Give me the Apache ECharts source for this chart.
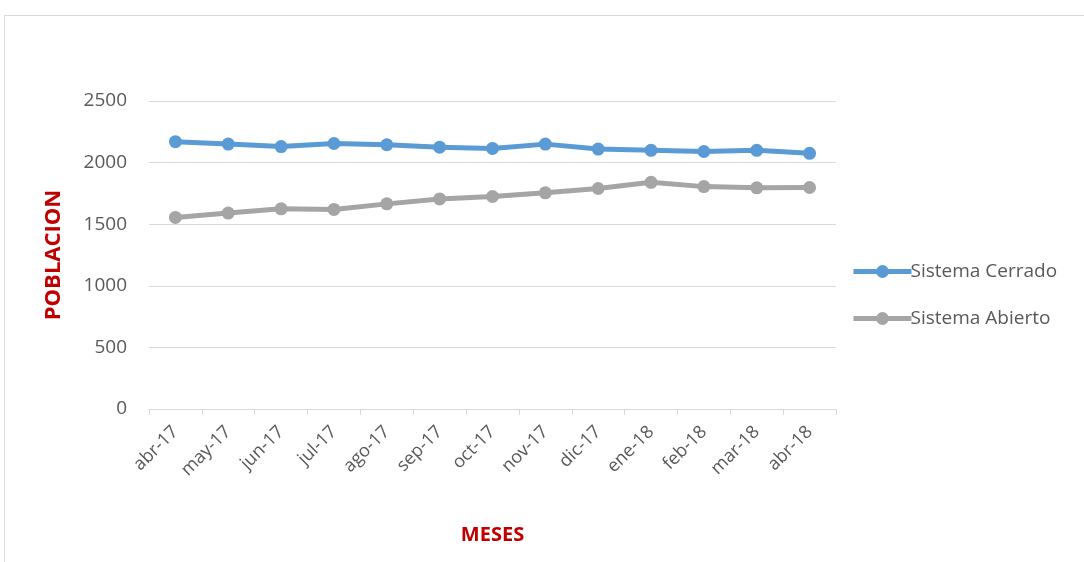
<!DOCTYPE html>
<html>
<head>
<meta charset="utf-8">
<script src="https://cdn.jsdelivr.net/npm/echarts@6/dist/echarts.min.js"></script>
<style>
  html, body { margin: 0; padding: 0; background: #fff; }
  #chart { width: 1084px; height: 562px; }
</style>
</head>
<body>
<div id="chart"></div>
<script>
// datos
var meses = ["abr-17", "may-17", "jun-17", "jul-17", "ago-17", "sep-17", "oct-17",
  "nov-17", "dic-17", "ene-18", "feb-18", "mar-18", "abr-18"];
var cerrado = [2170, 2150, 2130, 2155, 2145, 2125, 2115, 2150, 2110, 2100, 2090, 2100, 2075];
var abierto = [1555, 1590, 1625, 1620, 1665, 1705, 1725, 1755, 1790, 1840, 1805, 1795, 1798];
var yTicks = [0, 500, 1000, 1500, 2000, 2500];

var font = "'Open Sans', 'Liberation Sans', sans-serif";
var titleFont = "'Liberation Sans Narrow', " + font;
var myChart = echarts.init(document.getElementById("chart"));

var option = {
  backgroundColor: "#fff",
  animation: false,
  textStyle: { fontFamily: font },
  graphic: [
    {
      type: "rect",
      shape: { x: 4.5, y: 15.5, width: 1200, height: 700 },
      style: { fill: "none", stroke: "#d9d9d9", lineWidth: 1 },
    },
  ],
  legend: {
    orient: "vertical",
    left: 846,
    top: 257,
    itemWidth: 58,
    itemHeight: 16,
    itemGap: 28,
    lineStyle: { width: 5 },
    textStyle: { color: "#595959", fontSize: 19, fontFamily: font, padding: [0, 0, 0, -6] },
    data: ["Sistema Cerrado", "Sistema Abierto"],
  },
  grid: {
    left: 149,
    right: 248,
    top: 101,
    bottom: 153,
  },
  xAxis: {
    type: "category",
    data: meses,
    boundaryGap: true,
    name: "MESES",
    nameLocation: "middle",
    nameGap: 116,
    nameTextStyle: { color: "#c00000", fontSize: 20, fontWeight: "bold", fontFamily: titleFont },
    axisLine: { lineStyle: { color: "#d9d9d9", width: 1 } },
    axisTick: { show: true, length: 6, lineStyle: { color: "#d9d9d9" } },
    axisLabel: { rotate: 45, color: "#595959", fontSize: 18, margin: 20, interval: 0 },
  },
  yAxis: {
    type: "value",
    min: 0,
    max: yTicks[yTicks.length - 1],
    interval: 500,
    name: "POBLACION",
    nameLocation: "middle",
    nameGap: 84,
    nameTextStyle: { color: "#c00000", fontSize: 22, fontWeight: "bold", fontFamily: titleFont },
    axisLine: { show: false },
    axisTick: { show: false },
    axisLabel: {
      color: "#595959",
      fontSize: 19,
      margin: 22,
      formatter: function (v) { return String(v); },
    },
    splitLine: { lineStyle: { color: "#d9d9d9", width: 1 } },
  },
  series: [
    {
      name: "Sistema Cerrado",
      type: "line",
      data: cerrado,
      symbol: "circle",
      symbolSize: 13,
      lineStyle: { color: "#5b9bd5", width: 5 },
      itemStyle: { color: "#5b9bd5" },
    },
    {
      name: "Sistema Abierto",
      type: "line",
      data: abierto,
      symbol: "circle",
      symbolSize: 13,
      lineStyle: { color: "#a5a5a5", width: 5 },
      itemStyle: { color: "#a5a5a5" },
    },
  ],
};

myChart.setOption(option);
</script>
</body>
</html>
